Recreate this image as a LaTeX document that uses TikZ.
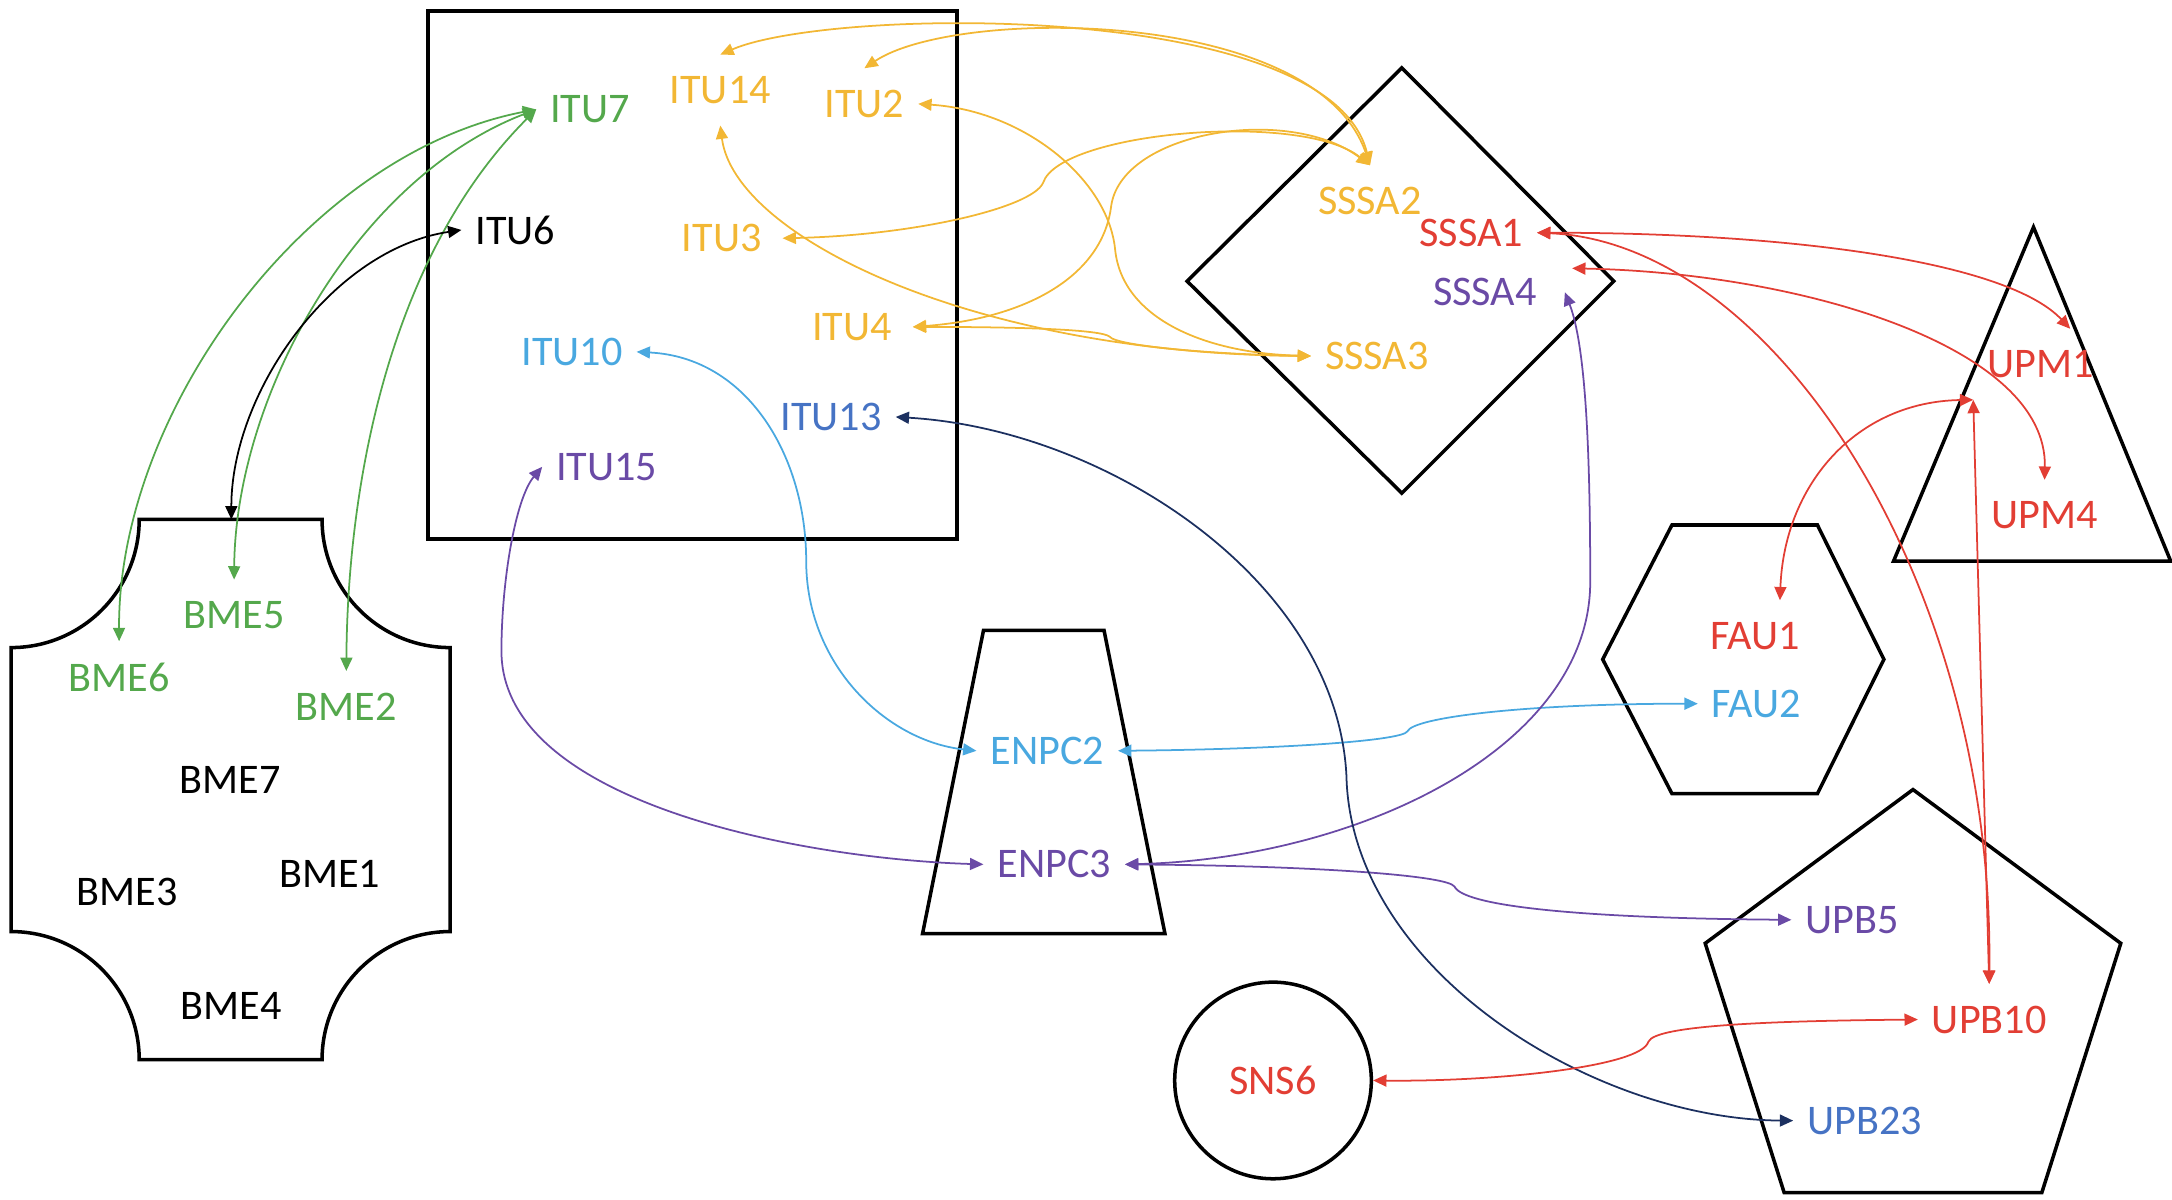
\documentclass[tikz,border=0pt]{standalone}
\usepackage{fontspec}
\setmainfont{Carlito}
\usetikzlibrary{arrows.meta}
\definecolor{cgreen}{RGB}{84,168,76}
\definecolor{cyellow}{RGB}{242,183,52}
\definecolor{cred}{RGB}{226,62,52}
\definecolor{ccyan}{RGB}{73,168,224}
\definecolor{cblue}{RGB}{70,115,196}
\definecolor{cnavy}{RGB}{28,48,96}
\definecolor{cpurple}{RGB}{106,74,166}
\tikzset{
  lbl/.style={font=\fontsize{12}{14}\selectfont, inner xsep=3.8pt, inner ysep=6pt},
  outline/.style={draw=black, line width=1pt},
  conn/.style={line width=0.5pt, {Triangle[length=3.8pt,width=3.4pt]}-{Triangle[length=3.8pt,width=3.4pt]}}
}
\begin{document}
\begin{tikzpicture}[x=0.013852cm,y=-0.013852cm]
\useasboundingbox (0,0) rectangle (1568,866);
% ---------- shapes ----------
\draw[outline] (309,8) rectangle (691,389);
\draw[outline] (1012,49) -- (1165,203) -- (1012,356) -- (857,203) -- cycle;
\draw[outline] (1468,164) -- (1567,405) -- (1367,405) -- cycle;
\draw[outline] (1207,379) -- (1312,379) -- (1360,476) -- (1312,573) -- (1207,573) -- (1157,476) -- cycle;
\draw[outline] (710,455) -- (797,455) -- (841,674) -- (666,674) -- cycle;
\draw[outline] (1381,570) -- (1531,681) -- (1474,861) -- (1288,861) -- (1231,681) -- cycle;
\draw[outline] (100.5,375) -- (232.5,375)
  .. controls (232.5,426.1) and (273.9,467.5) .. (325,467.5) -- (325,672.5)
  .. controls (273.9,672.5) and (232.5,713.9) .. (232.5,765) -- (100.5,765)
  .. controls (100.5,713.9) and (59.1,672.5) .. (8,672.5) -- (8,467.5)
  .. controls (59.1,467.5) and (100.5,426.1) .. (100.5,375) -- cycle;
\coordinate (BMEtop) at (167,375);
% ---------- labels ----------
\node[lbl,text=cgreen]  (ITU7)  at (426,79)  {ITU7};
\node[lbl,text=cyellow] (ITU14) at (520,65)  {ITU14};
\node[lbl,text=cyellow] (ITU2)  at (624,75)  {ITU2};
\node[lbl,text=black]   (ITU6)  at (372,166) {ITU6};
\node[lbl,text=cyellow] (ITU3)  at (521,172) {ITU3};
\node[lbl,text=cyellow] (ITU4)  at (615,236) {ITU4};
\node[lbl,text=ccyan]   (ITU10) at (413,254) {ITU10};
\node[lbl,text=cblue]   (ITU13) at (600,301) {ITU13};
\node[lbl,text=cpurple] (ITU15) at (438,337) {ITU15};
\node[lbl,text=cyellow] (SSSA2) at (989,145) {SSSA2};
\node[lbl,text=cred]    (SSSA1) at (1062,168) {SSSA1};
\node[lbl,text=cpurple] (SSSA4) at (1072,211) {SSSA4};
\node[lbl,text=cyellow] (SSSA3) at (994,257) {SSSA3};
\node[lbl,text=cred]    (UPM1)  at (1473,263) {UPM1};
\node[lbl,text=cred]    (UPM4)  at (1476,372) {UPM4};
\node[lbl,text=cred]    (FAU1)  at (1267,459) {FAU1};
\node[lbl,text=ccyan]   (FAU2)  at (1268,508) {FAU2};
\node[lbl,text=ccyan]   (ENPC2) at (756,542) {ENPC2};
\node[lbl,text=cpurple] (ENPC3) at (761,624) {ENPC3};
\node[lbl,text=cpurple] (UPB5)  at (1337,664) {UPB5};
\node[lbl,text=cred]    (UPB10) at (1436,736) {UPB10};
\node[lbl,text=cblue]   (UPB23) at (1346,809) {UPB23};
\node[lbl,text=cgreen]  (BME5)  at (169,444) {BME5};
\node[lbl,text=cgreen]  (BME6)  at (86,489)  {BME6};
\node[lbl,text=cgreen]  (BME2)  at (250,510) {BME2};
\node[lbl,text=black]   (BME7)  at (166,563) {BME7};
\node[lbl,text=black]   (BME3)  at (92,644)  {BME3};
\node[lbl,text=black]   (BME1)  at (238,631) {BME1};
\node[lbl,text=black]   (BME4)  at (167,726) {BME4};
\node[lbl,draw=black,line width=1pt,circle,minimum size=1.967cm,text=cred] (SNS6) at (919,780) {SNS6};
% ---------- connectors ----------
% green
\draw[conn,cgreen] (ITU7.west) .. controls (221,111) and (85,298) .. (BME6.north);
\draw[conn,cgreen] (ITU7.west) .. controls (257,129) and (170,286) .. (BME5.north);
\draw[conn,cgreen] (ITU7.west) .. controls (283,183) and (251,344) .. (BME2.north);
% black
\draw[conn,black] (ITU6.west) .. controls (240,180) and (167,283) .. (BMEtop);
% yellow
\draw[conn,cyellow] (ITU14.north) .. controls (600,5) and (960,0) .. (SSSA2.north);
\draw[conn,cyellow] (ITU2.north) .. controls (690,5) and (950,5) .. (SSSA2.north);
\draw[conn,cyellow] (ITU2.east) .. controls (740,80) and (800,130) .. (805,180)
  .. controls (810,230) and (870,255) .. (SSSA3.west);
\draw[conn,cyellow] ([xshift=2pt]ITU3.east) .. controls (660,170) and (745,150) .. (753,132)
  .. controls (765,95) and (940,80) .. (SSSA2.north);
\draw[conn,cyellow] ([xshift=2pt]ITU4.east) .. controls (740,230) and (795,200) .. (802,150)
  .. controls (808,95) and (930,75) .. (SSSA2.north);
\draw[conn,cyellow] ([xshift=2pt]ITU4.east) .. controls (740,236) and (795,238) .. (801,243)
  .. controls (806,250) and (880,256) .. (SSSA3.west);
\draw[conn,cyellow] (ITU14.south) .. controls (530,170) and (700,255) .. (SSSA3.west);
% cyan
\draw[conn,ccyan] (ITU10.east) .. controls (540,258) and (582,330) .. (582,405)
  .. controls (582,480) and (640,535) .. (ENPC2.west);
\draw[conn,ccyan] (ENPC2.east) .. controls (920,541) and (1012,535) .. (1016,528)
  .. controls (1020,518) and (1100,508) .. (FAU2.west);
% purple
\draw[conn,cpurple] (ITU15.west) .. controls (372,360) and (362,420) .. (362,470)
  .. controls (362,580) and (580,620) .. (ENPC3.west);
\draw[conn,cpurple] ([xshift=4pt]SSSA4.east) .. controls (1145,250) and (1148,330) .. (1148,420)
  .. controls (1148,540) and (980,620) .. (ENPC3.east);
\draw[conn,cpurple] (ENPC3.east) .. controls (950,625) and (1045,632) .. (1050,640)
  .. controls (1057,655) and (1150,663) .. (UPB5.west);
% navy
\draw[conn,cnavy] (ITU13.east) .. controls (800,310) and (965,420) .. (972,560)
  .. controls (975,700) and (1150,808) .. (UPB23.west);
% red
\draw[conn,cred] (SSSA1.east) .. controls (1300,168) and (1450,190) .. (UPM1.50);
\draw[conn,cred] ([xshift=10pt]SSSA1.south east) .. controls (1300,197) and (1478,250) .. (UPM4.north);
\draw[conn,cred] (SSSA1.east) .. controls (1280,175) and (1440,420) .. (UPB10.north);
\draw[conn,cred] (UPM1.south west) .. controls (1340,290) and (1288,350) .. (FAU1.55);
\draw[conn,cred] (UPM1.south west) -- (UPB10.north);
\draw[conn,cred] (UPB10.west) .. controls (1280,737) and (1195,740) .. (1190,752)
  .. controls (1185,770) and (1080,781) .. (SNS6.east);
\end{tikzpicture}
\end{document}
